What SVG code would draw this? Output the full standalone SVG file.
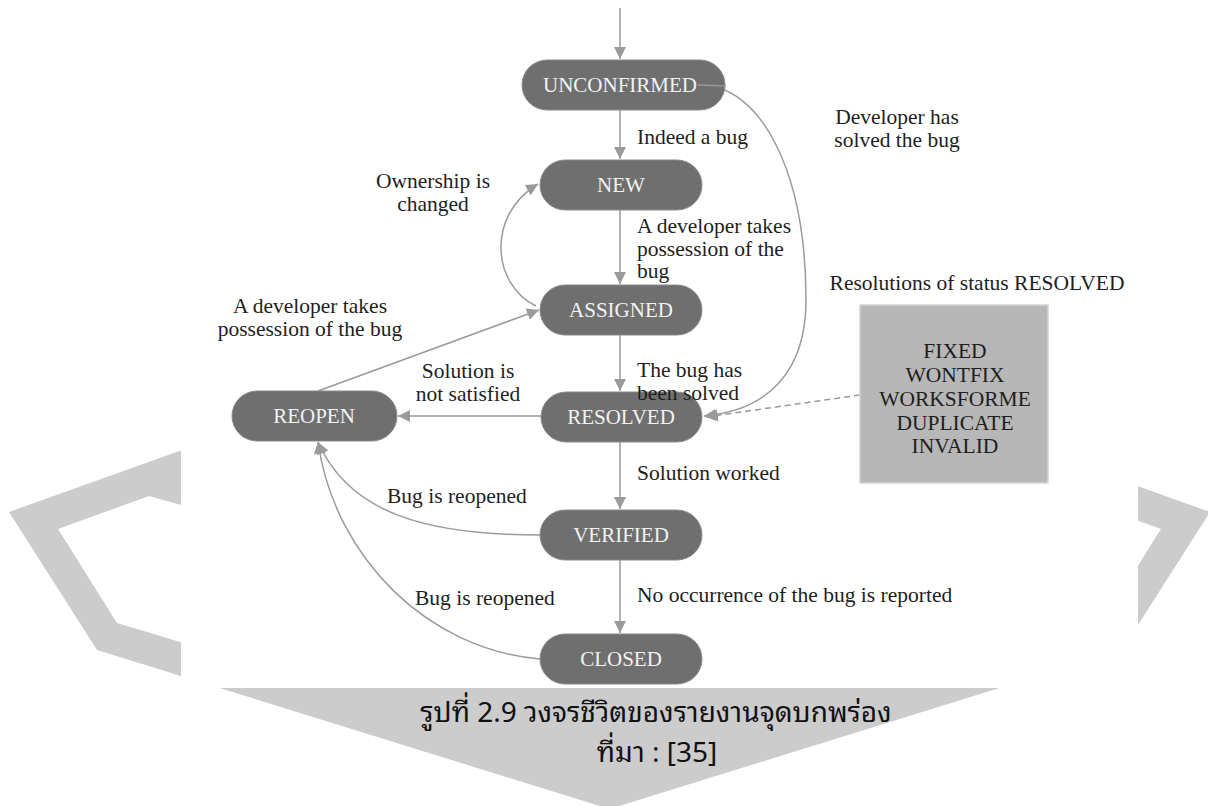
<svg xmlns="http://www.w3.org/2000/svg" width="1208" height="806" viewBox="0 0 1208 806">
<defs>
<marker id="ah" viewBox="0 0 12 12" refX="12" refY="6" markerWidth="12" markerHeight="12" markerUnits="userSpaceOnUse" orient="auto">
<path d="M0,0 L12,6 L0,12 Z" fill="#9a9a9a"/>
</marker>
<style>
.node rect{fill:#6f6f6f;stroke:#8a8a8a;stroke-width:1}
.node text{font-family:"Liberation Serif",serif;font-size:21px;fill:#f2f2f2;text-anchor:middle}
.lbl{font-family:"Liberation Serif",serif;font-size:21.5px;fill:#1e1e1e}
.mid{text-anchor:middle}
.edge{fill:none;stroke:#9a9a9a;stroke-width:1.5;marker-end:url(#ah)}
.cap{font-family:"Noto Sans Thai Looped","Leelawadee UI","Tahoma","Loma","Garuda","Noto Sans Thai","Noto Sans",sans-serif;font-size:28px;fill:#111;text-anchor:middle}
</style>
</defs>
<rect width="1208" height="806" fill="#ffffff"/>
<g id="watermark" fill="#cccccc">
<path fill-rule="evenodd" d="M400,372 L9,512 L97,650 L609.5,809 L1122,650 L1210,512 L819,372 Z M400,560 L181,505 L149,496 L58,529 L117,623 L330,687 L889,687 L1102,623 L1161,529 L1070,496 L1038,505 L819,560 Z"/>
</g>
<rect id="figure-bg" x="181" y="0" width="957" height="688" fill="#ffffff"/>
<g id="connectors">
<path class="edge" d="M620,8 L620,59"/>
<path class="edge" d="M620,110 L620,159"/>
<path class="edge" d="M620,210 L620,284"/>
<path class="edge" d="M620,335 L620,391"/>
<path class="edge" d="M620,442 L620,509"/>
<path class="edge" d="M620,560 L620,633"/>
<path class="edge" d="M541,416 L398,416"/>
<path class="edge" d="M318,391 L539,310"/>
<path class="edge" d="M536,306 C 492,285 486,215 538,184"/>
<path class="edge" d="M700,85 C 760,85 806,170 806,300 C 806,370 770,410 704,416"/>
<path class="edge" d="M540,535 C 430,535 350,515 318,442"/>
<path class="edge" d="M540,659 C 430,650 335,560 318,442"/>
<path class="edge" stroke-dasharray="6,4" d="M860,395 L706,417"/>
</g>
<g id="n-unconfirmed" class="node"><rect x="522" y="60" width="203" height="50" rx="25"/><text x="620" y="92">UNCONFIRMED</text></g>
<g id="n-new" class="node"><rect x="540" y="160" width="162" height="50" rx="25"/><text x="621" y="192">NEW</text></g>
<g id="n-assigned" class="node"><rect x="540" y="285" width="162" height="50" rx="25"/><text x="621" y="317">ASSIGNED</text></g>
<g id="n-resolved" class="node"><rect x="541" y="392" width="161" height="50" rx="25"/><text x="621" y="424">RESOLVED</text></g>
<g id="n-verified" class="node"><rect x="540" y="510" width="162" height="50" rx="25"/><text x="621" y="542">VERIFIED</text></g>
<g id="n-closed" class="node"><rect x="540" y="634" width="162" height="50" rx="25"/><text x="621" y="666">CLOSED</text></g>
<g id="n-reopen" class="node"><rect x="232" y="391" width="165" height="50" rx="25"/><text x="314" y="423">REOPEN</text></g>
<g id="connector-overlay">
<path d="M698,85 L726,86" fill="none" stroke="#9a9a9a" stroke-width="1.5"/>
</g>
<g id="n-resolutions">
<rect x="860" y="305" width="188" height="178" fill="#b7b7b7" stroke="#d4d4d4" stroke-width="1.5"/>
<text class="lbl mid" x="955" y="358" font-size="21.5">FIXED</text>
<text class="lbl mid" x="955" y="382" font-size="21.5">WONTFIX</text>
<text class="lbl mid" x="955" y="406" font-size="21.5">WORKSFORME</text>
<text class="lbl mid" x="955" y="430" font-size="21.5">DUPLICATE</text>
<text class="lbl mid" x="955" y="453" font-size="21.5">INVALID</text>
</g>
<g id="labels">
<text class="lbl" x="637" y="144">Indeed a bug</text>
<text class="lbl mid" x="897" y="124">Developer has</text>
<text class="lbl mid" x="897" y="147">solved the bug</text>
<text class="lbl mid" x="433" y="188">Ownership is</text>
<text class="lbl mid" x="433" y="211">changed</text>
<text class="lbl" x="637" y="233">A developer takes</text>
<text class="lbl" x="637" y="256">possession of the</text>
<text class="lbl" x="637" y="278">bug</text>
<text class="lbl mid" x="977" y="290">Resolutions of status RESOLVED</text>
<text class="lbl mid" x="310" y="313">A developer takes</text>
<text class="lbl mid" x="310" y="336">possession of the bug</text>
<text class="lbl mid" x="468" y="378">Solution is</text>
<text class="lbl mid" x="468" y="401">not satisfied</text>
<text class="lbl" x="637" y="377">The bug has</text>
<text class="lbl" x="637" y="400">been solved</text>
<text class="lbl" x="637" y="480">Solution worked</text>
<text class="lbl" x="387" y="503">Bug is reopened</text>
<text class="lbl" x="415" y="605">Bug is reopened</text>
<text class="lbl" x="637" y="602">No occurrence of the bug is reported</text>
</g>
<g id="caption">
<text class="cap" x="656" y="722">รูปที่ 2.9 วงจรชีวิตของรายงานจุดบกพร่อง</text>
<text class="cap" x="657" y="762">ที่มา : [35]</text>
</g>
</svg>
